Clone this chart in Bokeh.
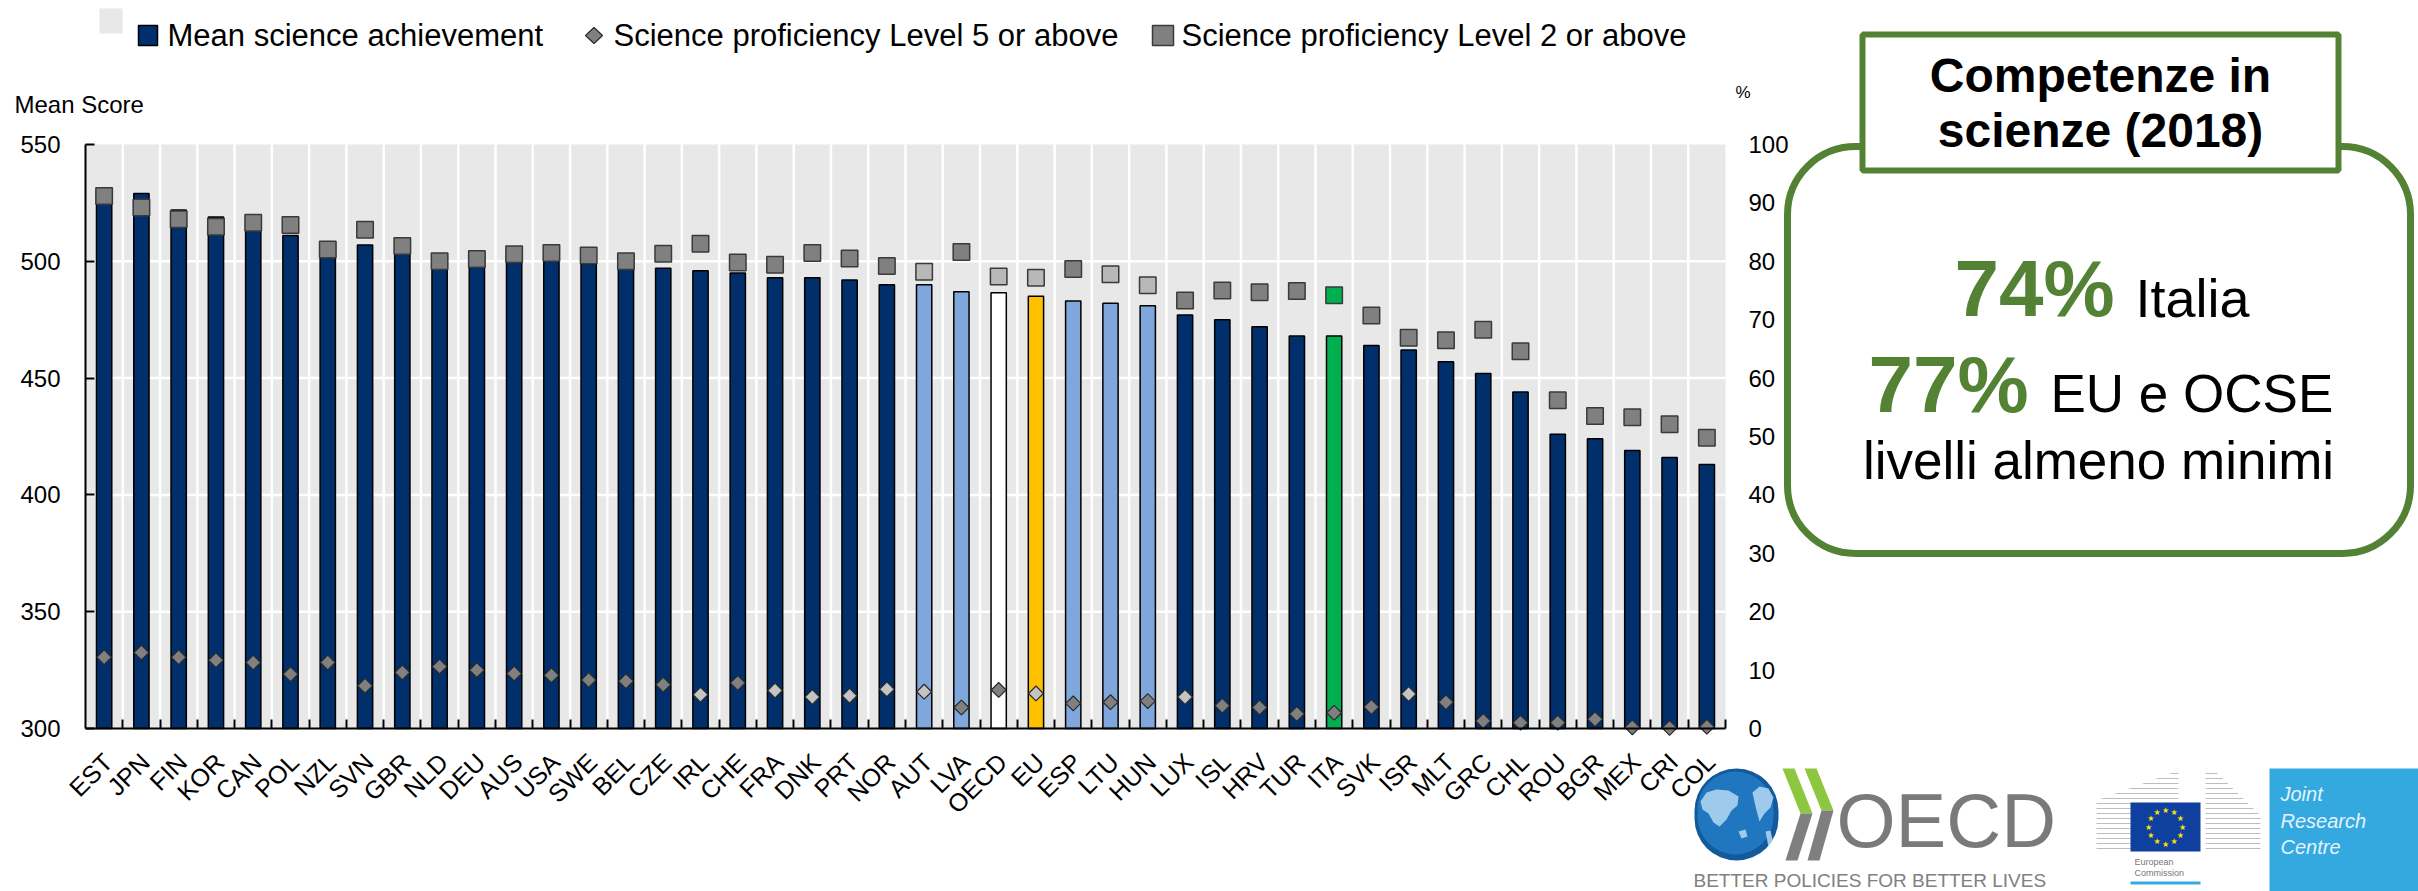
import numpy as np
from bokeh.plotting import figure
from bokeh.models import (Range1d, LinearAxis, FixedTicker, ColumnDataSource, Grid,
                          Label, LabelSet, BoxAnnotation, PolyAnnotation)
from bokeh.embed import file_html
from bokeh.resources import INLINE
from bokeh.core.properties import value

# ---------------- data ----------------
countries = ["EST", "JPN", "FIN", "KOR", "CAN", "POL", "NZL", "SVN", "GBR", "NLD", "DEU", "AUS",
             "USA", "SWE", "BEL", "CZE", "IRL", "CHE", "FRA", "DNK", "PRT", "NOR", "AUT", "LVA",
             "OECD", "EU", "ESP", "LTU", "HUN", "LUX", "ISL", "HRV", "TUR", "ITA", "SVK", "ISR",
             "MLT", "GRC", "CHL", "ROU", "BGR", "MEX", "CRI", "COL"]
mean_score = [530, 529, 522, 519, 518, 511, 508, 507, 505, 503, 503, 503,
              502, 499, 499, 497, 496, 495, 493, 493, 492, 490, 490, 487,
              486.5, 485, 483, 482, 481, 477, 475, 472, 468, 468, 464, 462,
              457, 452, 444, 426, 424, 419, 416, 413]
level5_pct = [12.2, 13.0, 12.2, 11.7, 11.3, 9.3, 11.3, 7.3, 9.6, 10.6, 10.0, 9.4,
              9.1, 8.3, 8.1, 7.5, 5.8, 7.8, 6.5, 5.4, 5.6, 6.7, 6.3, 3.6,
              6.6, 6.0, 4.3, 4.5, 4.7, 5.4, 3.9, 3.6, 2.5, 2.7, 3.7, 5.9,
              4.5, 1.3, 1.0, 1.0, 1.6, 0.2, 0.1, 0.3]
level2_pct = [91.2, 89.2, 87.2, 85.9, 86.6, 86.2, 82.0, 85.4, 82.6, 80.0, 80.4, 81.2,
              81.4, 81.0, 80.0, 81.3, 83.0, 79.8, 79.4, 81.4, 80.5, 79.2, 78.2, 81.6,
              77.4, 77.2, 78.7, 77.8, 75.9, 73.3, 75.0, 74.7, 74.9, 74.2, 70.7, 66.9,
              66.5, 68.3, 64.6, 56.2, 53.5, 53.3, 52.1, 49.8]
score_ticks = [300, 350, 400, 450, 500, 550]
pct_ticks = [0, 10, 20, 30, 40, 50, 60, 70, 80, 90, 100]
legend_labels = ["Mean science achievement", "Science proficiency Level 5 or above",
                 "Science proficiency Level 2 or above"]

light_blue_bars = ["AUT", "LVA", "ESP", "LTU", "HUN"]
light_squares = ["AUT", "OECD", "EU", "LTU", "HUN"]
light_diamonds = ["IRL", "FRA", "DNK", "PRT", "NOR", "AUT", "EU", "LUX", "ISR"]

# ---------------- styles ----------------
NAVY = "#002f6c"
LBLUE = "#7fa7db"
YELLOW = "#ffc000"
GREEN = "#00b050"
DGRAY = "#808080"
LGRAY = "#b8b8b8"
PANEL = "#e8e8e8"
BOXGREEN = "#548235"
FONT = "Liberation Sans"


def bar_colour(c):
    if c == "OECD":
        return "#ffffff"
    if c == "EU":
        return YELLOW
    if c == "ITA":
        return GREEN
    return LBLUE if c in light_blue_bars else NAVY


def square_colour(c):
    if c == "ITA":
        return GREEN
    return LGRAY if c in light_squares else DGRAY


def diamond_colour(c):
    return "#c4c4c4" if c in light_diamonds else DGRAY


n = len(countries)
src = ColumnDataSource(dict(
    xi=[i + 0.5 for i in range(n)], country=countries,
    score=mean_score, l5=level5_pct, l2=level2_pct,
    bar_col=[bar_colour(c) for c in countries],
    sq_col=[square_colour(c) for c in countries],
    dia_col=[diamond_colour(c) for c in countries],
))

# ---------------- page geometry (pixels of the 2418x891 page) ----------------
PX0, PX1, PY0, PY1 = 0, 2418, 0, 891          # canvas extent on the page
CH_L, CH_R, CH_T, CH_B = 85, 1725, 144, 728   # plot panel extent on the page


def xr(v0, v1, a, b):
    k = (v1 - v0) / (b - a)
    return Range1d(v0 - (a - PX0) * k, v1 + (PX1 - b) * k)


def yr(v0, v1, bottom, top):
    k = (v1 - v0) / (bottom - top)
    return Range1d(v0 - (PY1 - bottom) * k, v1 + (top - PY0) * k)


p = figure(width=PX1 - PX0, height=PY1 - PY0,
           x_range=Range1d(PX0, PX1), y_range=Range1d(-PY1, -PY0),
           x_axis_location=None, y_axis_location=None, title=None,
           output_backend="svg", toolbar_location=None,
           min_border=0, min_border_left=0, min_border_right=0, min_border_top=0,
           min_border_bottom=0, background_fill_color="white", border_fill_color="white",
           outline_line_color=None)
for r in list(p.center):
    if isinstance(r, Grid):
        r.visible = False

p.extra_x_ranges = {"idx": xr(0, n, CH_L, CH_R)}
p.extra_y_ranges = {"score": yr(300, 550, CH_B, CH_T), "pct": yr(0, 100, CH_B, CH_T)}
C = dict(x_range_name="idx", y_range_name="score")

# panel + white grid lines
p.quad(left=0, right=n, bottom=score_ticks[0], top=score_ticks[-1], fill_color=PANEL,
       line_color=None, **C)
p.segment(x0=0, x1=n, y0=score_ticks[1:-1], y1=score_ticks[1:-1], line_color="white",
          line_width=2.5, **C)
bounds_x = list(range(1, n))
p.segment(x0=bounds_x, x1=bounds_x, y0=score_ticks[0], y1=score_ticks[-1], line_color="white",
          line_width=2.5, **C)

# bars
p.vbar(x="xi", top="score", bottom=score_ticks[0], width=0.41, source=src,
       fill_color="bar_col", line_color="black", line_width=1.5, **C)
# Level 2 squares
p.scatter(x="xi", y="l2", x_range_name="idx", y_range_name="pct", marker="square", size=16.5,
          source=src, fill_color="sq_col", line_color="#3a3a3a", line_width=1.5)
# Level 5 diamonds
p.scatter(x="xi", y="l5", x_range_name="idx", y_range_name="pct", marker="square",
          angle=np.pi / 4, size=10.5, source=src, fill_color="dia_col", line_color="#2a2a2a",
          line_width=1.2)

# ---------------- axes ----------------
left = LinearAxis(x_range_name="idx", y_range_name="score", fixed_location=0,
                  bounds=(score_ticks[0], score_ticks[-1]), ticker=FixedTicker(ticks=score_ticks),
                  axis_line_color="black", axis_line_width=2, major_tick_line_color="black",
                  major_tick_line_width=2, major_tick_in=9, major_tick_out=0,
                  minor_tick_line_color=None, major_label_standoff=25,
                  major_label_text_font=FONT, major_label_text_font_size="24px",
                  major_label_text_color="black")
p.add_layout(left, "left")

right = LinearAxis(x_range_name="idx", y_range_name="pct", fixed_location=n,
                   bounds=(0, 100), ticker=FixedTicker(ticks=pct_ticks),
                   axis_line_color=None, major_tick_line_color=None, minor_tick_line_color=None,
                   major_tick_in=0, major_tick_out=0, major_label_standoff=23,
                   major_label_text_font=FONT, major_label_text_font_size="24px",
                   major_label_text_color="black")
p.add_layout(right, "right")

base = LinearAxis(x_range_name="idx", y_range_name="score", fixed_location=score_ticks[0],
                  bounds=(0, n), ticker=FixedTicker(ticks=list(range(1, n + 1))),
                  axis_line_color="black", axis_line_width=2, major_tick_line_color="black",
                  major_tick_line_width=2, major_tick_in=9, major_tick_out=0,
                  minor_tick_line_color=None, major_label_text_font_size="0px",
                  major_label_text_alpha=0)
p.add_layout(base, "below")

label_ticks = [i + 0.6 for i in range(n)]
cats = LinearAxis(x_range_name="idx", y_range_name="score", fixed_location=score_ticks[0],
                  bounds=(0, n), ticker=FixedTicker(ticks=label_ticks),
                  major_label_overrides={t: c for t, c in zip(label_ticks, countries)},
                  axis_line_color=None, major_tick_line_color=None, minor_tick_line_color=None,
                  major_tick_in=0, major_tick_out=0, major_label_standoff=29,
                  major_label_orientation=np.pi / 4, major_label_text_font=FONT,
                  major_label_text_font_size="25px", major_label_text_color="black")
p.add_layout(cats, "below")


# ---------------- decorations (page pixel coordinates) ----------------
def Y(v):
    return -v


def box(l, t, r, b, **kw):
    kw.setdefault("fill_alpha", 1)
    kw.setdefault("line_alpha", 1)
    kw.setdefault("line_color", None)
    p.add_layout(BoxAnnotation(left=l, right=r, top=Y(t), bottom=Y(b), **kw))


def poly(xs, ys, **kw):
    kw.setdefault("fill_alpha", 1)
    kw.setdefault("line_alpha", 1)
    kw.setdefault("line_color", None)
    p.add_layout(PolyAnnotation(xs=list(xs), ys=[Y(v) for v in ys], **kw))


def label(x, baseline, text, size, align="left", color="black", style="normal"):
    # placed by the middle of the em box, which lies ~0.35 em above the baseline
    p.add_layout(Label(x=x, y=Y(baseline - 0.35 * size), text=text, text_font=FONT,
                       text_font_size=f"{size}px", text_align=align, text_baseline="middle",
                       text_color=color, text_font_style=style))


# axis titles
label(14, 112, "Mean Score", 24)
label(1735, 98, "%", 17)

# legend
box(99, 8, 122, 33, fill_color=PANEL)
box(138, 25, 157, 45, fill_color=NAVY, line_color="black", line_width=1.5)
label(167, 46, legend_labels[0], 31)
poly([585, 593.5, 602, 593.5], [35, 27, 35, 43], fill_color=DGRAY, line_color="#2a2a2a",
     line_width=1.2)
label(613, 46, legend_labels[1], 31)
box(1152, 25, 1173, 45, fill_color=DGRAY, line_color="#3a3a3a", line_width=1.5)
label(1181, 46, legend_labels[2], 31)

# info box
box(1787, 146, 2410, 553, fill_color="white", line_color=BOXGREEN, line_width=7,
    border_radius=68)
box(1862, 34, 2338, 170, fill_color="white", line_color=BOXGREEN, line_width=6)
label(2100, 92, "Competenze in", 48, align="center", style="bold")
label(2100, 147, "scienze (2018)", 48, align="center", style="bold")
label(1954, 316, "74%", 80, color=BOXGREEN, style="bold")
label(2135, 316, "Italia", 54)
label(1868, 412, "77%", 80, color=BOXGREEN, style="bold")
label(2050, 412, "EU e OCSE", 53)
label(2098, 479, "livelli almeno minimi", 53, align="center")

# OECD logo: globe
box(1694, 768, 1778, 860, fill_color="#135a9c", border_radius=42)
box(1697, 771, 1773, 854, fill_color="#2177bf", border_radius=38)
CONT = dict(fill_color="#b4d9f2", fill_alpha=0.85)
poly([1700, 1706, 1716, 1728, 1738, 1737, 1731, 1726, 1719, 1713, 1708, 1702],
     [801, 792, 789, 790, 796, 805, 810, 819, 826, 822, 813, 809], **CONT)
poly([1738, 1745, 1747, 1741], [831, 829, 836, 838], **CONT)
poly([1752, 1759, 1768, 1773, 1770, 1764, 1759, 1755],
     [792, 786, 788, 797, 807, 813, 821, 806], **CONT)
poly([1765, 1770, 1772, 1768], [831, 830, 839, 847], **CONT)
# OECD logo: chevrons
poly([1782, 1794, 1812, 1800], [768, 768, 813, 813], fill_color="#8dc63f")
poly([1800, 1812, 1797, 1785], [813, 813, 860, 860], fill_color="#7f7f7f")
poly([1804, 1816, 1833, 1821], [768, 768, 810, 810], fill_color="#8dc63f")
poly([1821, 1833, 1819, 1807], [810, 810, 860, 860], fill_color="#7f7f7f")
label(1836, 847, "OECD", 76, color="#7a7a7a")
label(1693, 887, "BETTER POLICIES FOR BETTER LIVES", 19, color="#808080")

# European Commission logo
poly([2096, 2178, 2178, 2096], [800, 770, 852, 852], fill_color="white",
     hatch_pattern="horizontal_line", hatch_color="#bdbdbd", hatch_scale=5, hatch_weight=1)
poly([2205, 2214, 2260, 2260, 2205], [770, 770, 815, 852, 852], fill_color="white",
     hatch_pattern="horizontal_line", hatch_color="#bdbdbd", hatch_scale=5, hatch_weight=1)
box(2130, 802, 2200, 851, fill_color="#0f3f9f")
ang = np.arange(12) * np.pi / 6
star_src = ColumnDataSource(dict(x=list(2165 + 17 * np.cos(ang)),
                                 y=[Y(v) for v in 826.5 + 17 * np.sin(ang)],
                                 t=["\u2605"] * 12))
p.add_layout(LabelSet(x="x", y="y", text="t", source=star_src,
                      text_font=value("DejaVu Sans"), text_font_size="8px",
                      text_color="#ffe000", text_align="center", text_baseline="middle"))
label(2134, 865, "European", 9, color="#777777")
label(2134, 876, "Commission", 9, color="#777777")
box(2130, 881, 2200, 884, fill_color="#35a9e1")

# JRC logo
box(2269, 768, 2418, 891, fill_color="#33a9e0")
label(2280, 800, "Joint", 20, color="#e3f3fb", style="italic")
label(2280, 827, "Research", 20, color="#e3f3fb", style="italic")
label(2280, 853, "Centre", 20, color="#e3f3fb", style="italic")

open("out.html", "w").write(file_html(p, INLINE, title="Competenze in scienze (2018)"))
